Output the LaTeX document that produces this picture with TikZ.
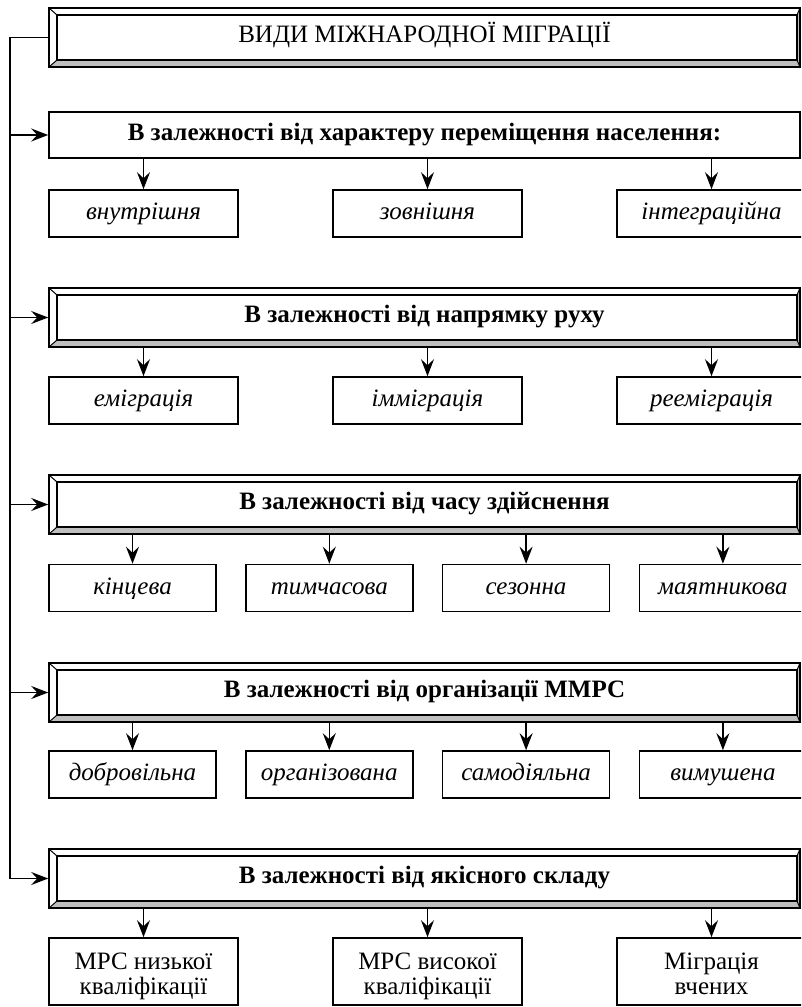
\documentclass[tikz,border=0pt]{standalone}
\usepackage{fontspec}
\setmainfont{Liberation Serif}
\usetikzlibrary{arrows.meta,positioning}
\newcommand{\sz}{\fontsize{25}{25}\selectfont}

\begin{document}
\begin{tikzpicture}[x=1pt,y=-1pt,line width=1.6pt,
arr/.style={-{Stealth[length=17pt,width=13pt,inset=6pt]}},
kid/.style={draw,inner sep=0pt,minimum width=#1,minimum height=47pt,text height=18pt,text depth=6pt,font=\sz\itshape},
plaincat/.style={draw,inner sep=0pt,minimum width=751pt,minimum height=46pt,text height=17pt,text depth=7pt,font=\sz\bfseries},
bevel/.style={draw,inner sep=0pt,minimum width=751pt,minimum height=59pt,text height=17pt,text depth=7pt,font=\sz\bfseries,
path picture={
\fill[gray!50] (path picture bounding box.south west) rectangle (path picture bounding box.north east);
\fill[white] (path picture bounding box.south west) -- (path picture bounding box.north west) -- (path picture bounding box.north east)
 -- ([shift={(-3pt,-7pt)}]path picture bounding box.north east) -- ([shift={(8pt,-7pt)}]path picture bounding box.north west)
 -- ([shift={(8pt,7pt)}]path picture bounding box.south west) -- cycle;
\draw[line width=1.3pt,fill=white] ([shift={(8pt,-7pt)}]path picture bounding box.north west) rectangle ([shift={(-3pt,7pt)}]path picture bounding box.south east);
\draw[line width=1pt] (path picture bounding box.north west) -- ++(8pt,-7pt);
\draw[line width=1pt] (path picture bounding box.south west) -- ++(8pt,7pt);
\draw[line width=1pt] (path picture bounding box.north east) -- ++(-3pt,-7pt);
\draw[line width=1pt] (path picture bounding box.south east) -- ++(-3pt,7pt);
}}
]
\useasboundingbox (0,0) rectangle (801,1007);
\clip (0,0) rectangle (801,1007);

\node[bevel,font=\sz] (title) at (424.5,37.5) {ВИДИ МІЖНАРОДНОЇ МІГРАЦІЇ};
\node[plaincat] (c1) at (424.5,135) {В залежності від характеру переміщення населення:};
\node[bevel] (c2) at (424.5,317.5) {В залежності від напрямку руху};
\node[bevel] (c3) at (424.5,504.5) {В залежності від часу здійснення};
\node[bevel] (c4) at (424.5,692.5) {В залежності від організації ММРС};
\node[bevel] (c5) at (424.5,878.5) {В залежності від якісного складу};

% trunk on the left
\coordinate (trunk) at (10,37.5);
\draw[arr] (title.west) -- (trunk) |- (c5.west);
\foreach \c in {c1,c2,c3,c4}
\draw[arr] (trunk |- \c.west) -- (\c.west);

\foreach \t [count=\i] in {внутрішня,зовнішня,інтеграційна}
{
\node[kid=189pt] (a\i) at ({143.5+284*(\i-1)},213.5) {\t};
\draw[arr] (c1.south -| a\i) -- (a\i);
}
\foreach \t [count=\i] in {еміграція,імміграція,рееміграція}
{
\node[kid=189pt] (b\i) at ({143.5+284*(\i-1)},400.5) {\t};
\draw[arr] (c2.south -| b\i) -- (b\i);
}
\foreach \t [count=\i] in {кінцева,тимчасова,сезонна,маятникова}
{
\node[kid=167pt] (d\i) at ({132.5+196.8*(\i-1)},588) {\t};
\draw[arr] (c3.south -| d\i) -- (d\i);
}
\foreach \t [count=\i] in {добровільна,організована,самодіяльна,вимушена}
{
\node[kid=167pt] (e\i) at ({132.5+196.8*(\i-1)},774.5) {\t};
\draw[arr] (c4.south -| e\i) -- (e\i);
}
\foreach \t [count=\i] in {МРС низької\\кваліфікації,МРС високої\\кваліфікації,Міграція\\вчених}
{
\node[kid=189pt,minimum height=67pt,text height=45pt,text depth=0pt,font=\sz,align=center] (f\i) at ({143.5+284*(\i-1)},971.5) {\t};
\draw[arr] (c5.south -| f\i) -- (f\i);
}
\end{tikzpicture}
\end{document}
